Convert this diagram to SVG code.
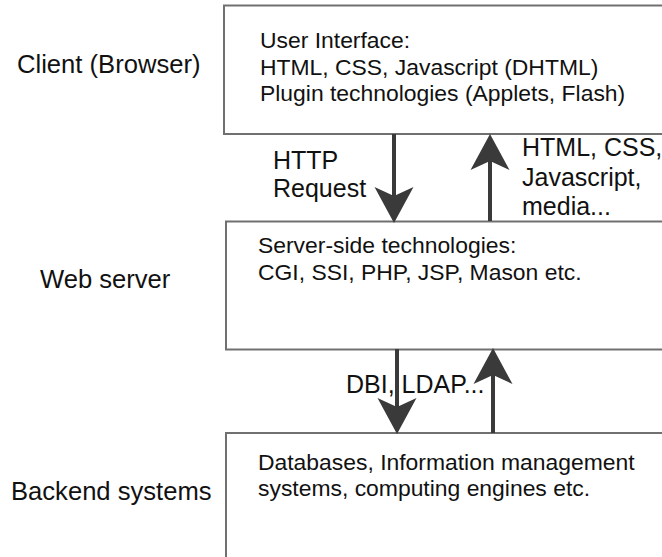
<svg xmlns="http://www.w3.org/2000/svg" width="662" height="557" viewBox="0 0 662 557">
<style>
.box{fill:#fff;stroke:#707070;stroke-width:2}
.lbl{font-family:"Liberation Sans",Arial,sans-serif;font-size:25.6px;fill:#111}
.txt{font-family:"Liberation Sans",Arial,sans-serif;font-size:22.9px;fill:#111}
.arr{font-family:"Liberation Sans",Arial,sans-serif;font-size:25px;fill:#111}
.conn{stroke:#3a3a3a;stroke-width:4;fill:none;marker-end:url(#head)}
</style>
<defs>
<marker id="head" markerUnits="userSpaceOnUse" viewBox="-36 -21 38 42" markerWidth="38" markerHeight="42" refX="-26" refY="0" orient="auto">
<path d="M1,0 L-35,-19.5 L-26,0 L-35,19.5 Z" fill="#3a3a3a"/>
</marker>
</defs>
<rect width="662" height="557" fill="#fff"/>
<g id="client">
<rect class="box" x="224" y="5.5" width="460" height="128.5"/>
<text class="lbl" x="17" y="73">Client (Browser)</text>
<text class="txt" x="260" y="48">User Interface:</text>
<text class="txt" x="260" y="75">HTML, CSS, Javascript (DHTML)</text>
<text class="txt" x="260" y="101">Plugin technologies (Applets, Flash)</text>
</g>
<g id="webserver">
<rect class="box" x="226" y="221.5" width="460" height="128"/>
<text class="lbl" x="40" y="288">Web server</text>
<text class="txt" x="258" y="253">Server-side technologies:</text>
<text class="txt" x="258" y="280">CGI, SSI, PHP, JSP, Mason etc.</text>
</g>
<g id="backend">
<rect class="box" x="226" y="433" width="460" height="140"/>
<text class="lbl" x="11" y="500">Backend systems</text>
<text class="txt" x="258" y="470">Databases, Information management</text>
<text class="txt" x="258" y="496">systems, computing engines etc.</text>
</g>
<g id="connectors">
<line class="conn" x1="394" y1="134" x2="394" y2="196"/>
<line class="conn" x1="490" y1="221" x2="490" y2="161"/>
<line class="conn" x1="397" y1="349" x2="397" y2="407"/>
<line class="conn" x1="493" y1="433" x2="493" y2="375"/>
<text class="arr" x="273" y="169">HTTP</text>
<text class="arr" x="273" y="197">Request</text>
<text class="arr" x="522" y="156">HTML, CSS,</text>
<text class="arr" x="522" y="186">Javascript,</text>
<text class="arr" x="522" y="215">media...</text>
<text class="arr" x="346" y="393">DBI, LDAP...</text>
</g>
</svg>
